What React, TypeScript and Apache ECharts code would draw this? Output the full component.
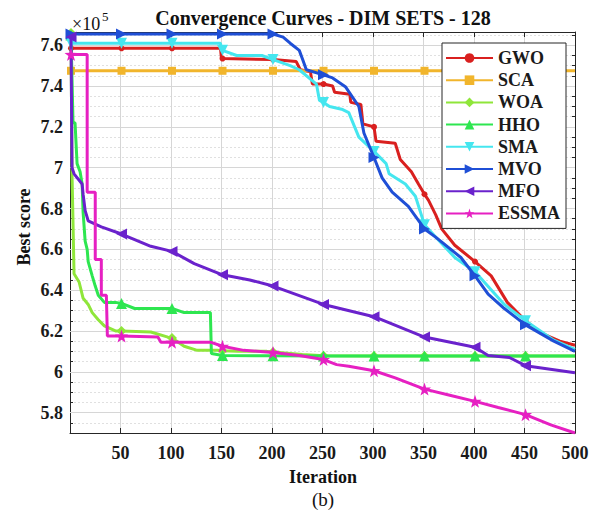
import React, { useEffect, useRef } from "react";
import * as echarts from "echarts";

const FONT = "'Liberation Serif', 'Times New Roman', Times, serif";

const seriesNames = ["GWO", "SCA", "WOA", "HHO", "SMA", "MVO", "MFO", "ESSMA"];
const seriesColors = ["#d9201f", "#f1b52c", "#8fe63a", "#2ee650", "#45e6ef", "#1f4fd6", "#6a22cc", "#e620c2"];
const yTickValues = [5.8, 6.0, 6.2, 6.4, 6.6, 6.8, 7.0, 7.2, 7.4, 7.6];

// [iteration, best score (x10^5)]
const gwoData: [number, number][] = [
  [1, 7.585], [51, 7.585], [101, 7.585], [149, 7.585], [150, 7.535], [151, 7.535], [201, 7.53], [224, 7.52],
  [228, 7.48], [238, 7.47], [240, 7.41], [251, 7.41], [260, 7.4], [262, 7.37], [277, 7.36], [278, 7.32],
  [288, 7.31], [290, 7.215], [301, 7.2], [303, 7.13], [322, 7.12], [327, 7.04], [338, 6.98], [345, 6.92],
  [351, 6.87], [355, 6.84], [362, 6.77], [368, 6.7], [381, 6.62], [401, 6.54], [417, 6.47], [433, 6.34],
  [451, 6.25], [466, 6.19], [485, 6.15], [500, 6.13],
];
const scaData: [number, number][] = [
  [1, 7.475], [51, 7.475], [101, 7.475], [151, 7.475], [201, 7.475], [251, 7.475], [301, 7.475], [351, 7.475],
  [401, 7.475], [451, 7.475], [500, 7.475],
];
const woaData: [number, number][] = [
  [1, 7.66], [2, 6.97], [4, 6.48], [9, 6.44], [13, 6.36], [18, 6.33], [22, 6.29], [28, 6.255], [34, 6.225],
  [45, 6.2], [51, 6.2], [80, 6.195], [97, 6.17], [101, 6.165], [113, 6.125], [126, 6.105], [146, 6.105],
  [151, 6.103], [166, 6.1], [195, 6.1], [201, 6.097], [230, 6.085], [251, 6.078], [301, 6.077], [351, 6.077],
  [401, 6.077], [451, 6.077], [500, 6.077],
];
const hhoData: [number, number][] = [
  [1, 7.65], [3, 7.22], [5, 7.22], [7, 7.02], [10, 6.98], [12, 6.92], [13, 6.78], [15, 6.64], [17, 6.6],
  [18, 6.54], [22, 6.47], [25, 6.42], [28, 6.375], [34, 6.34], [45, 6.34], [51, 6.335], [64, 6.31], [101, 6.31],
  [113, 6.29], [139, 6.29], [140, 6.09], [151, 6.08], [201, 6.078], [251, 6.077], [301, 6.077], [351, 6.077],
  [401, 6.077], [451, 6.077], [500, 6.077],
];
const smaData: [number, number][] = [
  [1, 7.61], [51, 7.61], [101, 7.61], [149, 7.61], [150, 7.575], [151, 7.575], [165, 7.55], [190, 7.55],
  [201, 7.53], [218, 7.5], [227, 7.48], [244, 7.41], [247, 7.33], [251, 7.32], [257, 7.3], [270, 7.285],
  [276, 7.27], [286, 7.15], [301, 7.08], [313, 7.02], [316, 6.97], [332, 6.92], [342, 6.86], [351, 6.72],
  [362, 6.66], [381, 6.56], [401, 6.49], [430, 6.33], [451, 6.25], [479, 6.155], [500, 6.11],
];
const mvoData: [number, number][] = [
  [1, 7.655], [51, 7.655], [101, 7.655], [151, 7.655], [201, 7.655], [211, 7.64], [218, 7.61], [227, 7.575],
  [230, 7.535], [234, 7.48], [251, 7.455], [260, 7.44], [273, 7.395], [286, 7.3], [291, 7.17], [301, 7.05],
  [309, 6.95], [319, 6.88], [335, 6.81], [351, 6.7], [362, 6.66], [387, 6.56], [401, 6.47], [414, 6.38],
  [430, 6.31], [451, 6.23], [479, 6.15], [500, 6.1],
];
const mfoData: [number, number][] = [
  [1, 7.64], [2, 7.0], [4, 6.97], [12, 6.92], [13, 6.87], [15, 6.79], [18, 6.74], [31, 6.71], [51, 6.675],
  [80, 6.615], [101, 6.59], [123, 6.53], [151, 6.475], [178, 6.45], [201, 6.42], [251, 6.33], [301, 6.27],
  [351, 6.17], [401, 6.12], [414, 6.08], [435, 6.07], [451, 6.03], [500, 5.995],
];
const essmaData: [number, number][] = [
  [1, 7.555], [17, 7.555], [17, 6.88], [25, 6.88], [25, 6.55], [31, 6.55], [31, 6.375], [36, 6.375],
  [37, 6.175], [51, 6.175], [87, 6.17], [90, 6.145], [101, 6.145], [139, 6.145], [151, 6.125], [172, 6.105],
  [201, 6.095], [227, 6.08], [251, 6.06], [264, 6.035], [276, 6.027], [301, 6.005], [322, 5.97], [351, 5.915],
  [376, 5.885], [401, 5.855], [424, 5.825], [451, 5.79], [476, 5.74], [500, 5.7],
];

const allData = [gwoData, scaData, woaData, hhoData, smaData, mvoData, mfoData, essmaData];

const STAR =
  "path://M0,-10L2.35,-3.24L9.51,-3.09L3.8,1.24L5.88,8.09L0,4L-5.88,8.09L-3.8,1.24L-9.51,-3.09L-2.35,-3.24Z";
const symbols = ["circle", "rect", "diamond", "triangle", "triangle", "triangle", "triangle", STAR];
const symbolRotates = [0, 0, 0, 0, 180, -90, 90, 0];
const symbolSizes = [6, 8, 10, 11, 11, 11, 11, 13];

const MARK_STEP = 50;

export default function App() {
  const ref = useRef<HTMLDivElement>(null);
  useEffect(() => {
    if (!ref.current) return;
    const chart = echarts.init(ref.current, undefined, { renderer: "svg" });
    const axisColor = "#262626";
    const gridSeries = {
      type: "line",
      name: "grid",
      data: [],
      silent: true,
      z: 1,
      markLine: {
        silent: true,
        z: 1,
        symbol: ["none", "none"],
        label: { show: false },
        lineStyle: { color: "#d6d6d6", width: 1, type: "solid" },
        emphasis: { disabled: true },
        data: yTickValues.map((v) => ({ yAxis: v })),
      },
    };
    const series = seriesNames.map((name, i) => ({
      type: "line",
      name,
      xAxisIndex: 0,
      yAxisIndex: 0,
      data: allData[i].map(([x, y]) =>
        (x - 1) % MARK_STEP === 0 ? { value: [x, y] } : { value: [x, y], symbol: "none" }
      ),
      symbol: symbols[i],
      symbolSize: symbolSizes[i],
      symbolRotate: symbolRotates[i],
      showSymbol: true,
      showAllSymbol: true,
      lineStyle: { width: 3, color: seriesColors[i] },
      itemStyle: { color: seriesColors[i] },
      z: 3 + i,
    }));
    const option = {
      animation: false,
      backgroundColor: "#ffffff",
      textStyle: { fontFamily: FONT },
      grid: { left: 70, right: 26, top: 32, bottom: 79 },
      xAxis: [
        {
          type: "value",
          min: 0,
          max: 500,
          interval: 50,
          position: "bottom",
          axisLine: { show: true, onZero: false, lineStyle: { color: axisColor, width: 1 } },
          axisTick: { show: true, inside: true, length: 5, lineStyle: { color: axisColor } },
          axisLabel: {
            showMinLabel: false,
            margin: 11,
            fontFamily: FONT,
            fontWeight: "bold",
            fontSize: 18,
            color: "#1a1a1a",
          },
          splitLine: { show: true, lineStyle: { color: "#d6d6d6", width: 1 } },
        },
        {
          type: "value",
          min: 0,
          max: 500,
          interval: 50,
          position: "top",
          axisLine: { show: true, onZero: false, lineStyle: { color: axisColor, width: 1 } },
          axisTick: { show: true, inside: true, length: 5, lineStyle: { color: axisColor } },
          axisLabel: { show: false },
          splitLine: { show: false },
        },
      ],
      yAxis: [
        {
          type: "value",
          min: 5.7,
          max: 7.665,
          position: "left",
          axisLine: { show: true, onZero: false, lineStyle: { color: axisColor, width: 1 } },
          axisTick: {
            show: true,
            inside: true,
            length: 5,
            customValues: yTickValues,
            lineStyle: { color: axisColor },
          },
          axisLabel: {
            customValues: yTickValues,
            margin: 7,
            fontFamily: FONT,
            fontWeight: "bold",
            fontSize: 18,
            color: "#1a1a1a",
            formatter: (v: number) => String(Math.round(v * 10) / 10),
          },
          splitLine: { show: false },
        },
        {
          type: "value",
          min: 5.7,
          max: 7.665,
          interval: 0.05,
          position: "right",
          axisLine: { show: true, onZero: false, lineStyle: { color: axisColor, width: 1 } },
          axisTick: { show: true, inside: true, length: 3, lineStyle: { color: axisColor } },
          axisLabel: { show: false },
          splitLine: { show: true, lineStyle: { color: "#e0e0e0", width: 1, type: [2, 2] } },
        },
        {
          type: "value",
          min: 5.7,
          max: 7.665,
          interval: 0.05,
          position: "left",
          axisLine: { show: false, onZero: false },
          axisTick: { show: true, inside: true, length: 3, lineStyle: { color: axisColor } },
          axisLabel: { show: false },
          splitLine: { show: false },
        },
      ],
      legend: {
        orient: "vertical",
        left: 442,
        top: 43,
        z: 20,
        padding: [5, 6, 5, 3],
        itemGap: 2.2,
        itemWidth: 47,
        itemHeight: 12,
        backgroundColor: "#ffffff",
        borderColor: axisColor,
        borderWidth: 1,
        textStyle: { fontFamily: FONT, fontWeight: "bold", fontSize: 18, color: "#1a1a1a", lineHeight: 20 },
        data: seriesNames,
      },
      graphic: [
        {
          type: "text",
          x: 323,
          y: 18,
          style: {
            text: "Convergence Curves - DIM SETS - 128",
            font: `bold 20px ${FONT}`,
            fill: "#111",
            align: "center",
            verticalAlign: "middle",
            textAlign: "center",
            textVerticalAlign: "middle",
          },
        },
        {
          type: "text",
          x: 72,
          y: 24,
          style: {
            text: "×10",
            font: `18px ${FONT}`,
            fill: "#111",
            align: "left",
            verticalAlign: "middle",
            textAlign: "left",
            textVerticalAlign: "middle",
          },
        },
        {
          type: "text",
          x: 102,
          y: 16,
          style: {
            text: "5",
            font: `13px ${FONT}`,
            fill: "#111",
            align: "left",
            verticalAlign: "middle",
            textAlign: "left",
            textVerticalAlign: "middle",
          },
        },
        {
          type: "text",
          x: 24,
          y: 227,
          rotation: Math.PI / 2,
          style: {
            text: "Best score",
            font: `bold 18px ${FONT}`,
            fill: "#111",
            align: "center",
            verticalAlign: "middle",
            textAlign: "center",
            textVerticalAlign: "middle",
          },
        },
        {
          type: "text",
          x: 323,
          y: 477,
          style: {
            text: "Iteration",
            font: `bold 18px ${FONT}`,
            fill: "#111",
            align: "center",
            verticalAlign: "middle",
            textAlign: "center",
            textVerticalAlign: "middle",
          },
        },
        {
          type: "text",
          x: 323,
          y: 499,
          style: {
            text: "(b)",
            font: `19px ${FONT}`,
            fill: "#111",
            align: "center",
            verticalAlign: "middle",
            textAlign: "center",
            textVerticalAlign: "middle",
          },
        },
      ],
      series: [gridSeries, ...series],
    };
    chart.setOption(option as any);
    return () => chart.dispose();
  }, []);
  return <div ref={ref} style={{ width: 601, height: 512, position: "absolute", left: 0, top: 0 }} />;
}
